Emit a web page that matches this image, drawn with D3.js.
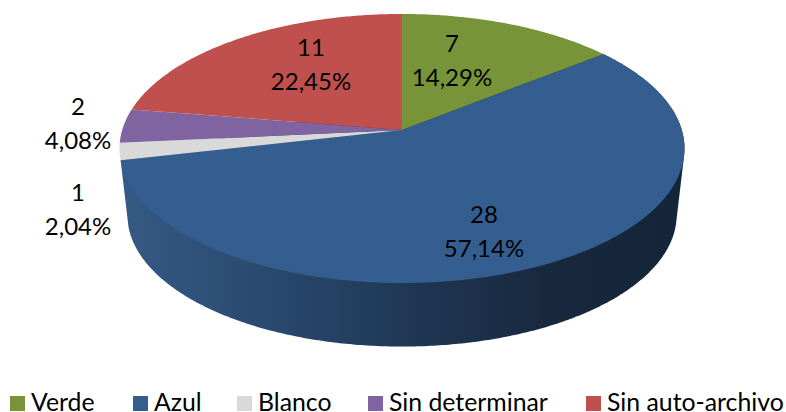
<!DOCTYPE html>
<html>
<head>
<meta charset="utf-8">
<script src="https://cdn.jsdelivr.net/npm/d3@7"></script>
<style>
  html, body { margin: 0; padding: 0; background: #fff; }
  text { font-family: Lato, "Open Sans", sans-serif; fill: #000; }
</style>
</head>
<body>
<div id="chart"></div>
<script>
const categories = ['Verde', 'Azul', 'Blanco', 'Sin determinar', 'Sin auto-archivo'];
const counts = [7, 28, 1, 2, 11];
const percents = ['14,29%', '57,14%', '2,04%', '4,08%', '22,45%'];
const colors = ['#779438', '#355e90', '#d9d9d9', '#8063a1', '#bf504d'];

const width = 786, height = 412;

// Where the labels sit, same order as categories
const labelPos = [[452, 60.5], [484, 231], [78, 209], [78, 123.5], [311, 64]];
const legendX = [10, 133, 237, 368, 586];

const svg = d3.select('#chart').append('svg')
  .attr('width', width)
  .attr('height', height)
  .style('display', 'block');

const color = d3.scaleOrdinal().domain(categories).range(colors);

const pie = d3.pie().sort(null);
const slices = pie(counts);

// Disc seen in perspective: the far side is squeezed, so the centre is not mid-ellipse
function project(angle, r, disc) {
  const u = r * Math.sin(angle), v = r * Math.cos(angle);
  const w = 1 + 0.1375 * v;
  return [disc.x + disc.a * u / w, disc.y - disc.b * v / w];
}
const topDisc = { x: 402, y: 130, a: 279.8, b: 132 };
const bottomDisc = { x: 402, y: 197, a: 272, b: 129 };

function arcPoints(start, end, disc) {
  const n = Math.ceil((end - start) / 0.01);
  return d3.range(n + 1).map(i => project(start + (end - start) * i / n, 1, disc));
}

const line = d3.line();

// Side wall, only the blue slice shows it
const defs = svg.append('defs');
const wallGrad = defs.append('linearGradient')
  .attr('id', 'wall')
  .attr('x1', 0).attr('x2', 1).attr('y1', 0).attr('y2', 0);
wallGrad.append('stop').attr('offset', '0%').attr('stop-color', '#355a85');
wallGrad.append('stop').attr('offset', '32%').attr('stop-color', '#274569');
wallGrad.append('stop').attr('offset', '50%').attr('stop-color', '#203855');
wallGrad.append('stop').attr('offset', '75%').attr('stop-color', '#18293f');
wallGrad.append('stop').attr('offset', '100%').attr('stop-color', '#14253a');

const blue = slices[1];
const wallPts = d3.polygonHull(arcPoints(blue.startAngle, blue.endAngle, topDisc)
  .concat(arcPoints(blue.startAngle, blue.endAngle, bottomDisc)));
svg.append('path')
  .attr('d', line(wallPts) + 'Z')
  .attr('fill', 'url(#wall)');

// Top face
svg.selectAll('path.slice')
  .data(slices)
  .enter()
  .append('path')
  .attr('class', 'slice')
  .attr('d', d => line([[topDisc.x, topDisc.y]].concat(arcPoints(d.startAngle, d.endAngle, topDisc))) + 'Z')
  .attr('fill', (d, i) => color(categories[i]));

// Labels
const labels = svg.selectAll('g.label')
  .data(categories)
  .enter()
  .append('g')
  .attr('class', 'label')
  .attr('transform', (d, i) => `translate(${labelPos[i][0]},${labelPos[i][1]})`);
labels.append('text')
  .attr('text-anchor', 'middle')
  .attr('y', -8.5)
  .style('font-size', '24px')
  .text((d, i) => counts[i]);
labels.append('text')
  .attr('text-anchor', 'middle')
  .attr('y', 25.5)
  .style('font-size', '24px')
  .text((d, i) => percents[i]);

// Legend
const legend = svg.selectAll('g.legend')
  .data(categories)
  .enter()
  .append('g')
  .attr('class', 'legend')
  .attr('transform', (d, i) => `translate(${legendX[i]},396)`);
legend.append('rect')
  .attr('width', 15)
  .attr('height', 15)
  .attr('fill', d => color(d));
legend.append('text')
  .attr('x', 21)
  .attr('y', 14.5)
  .style('font-size', '24.8px')
  .text(d => d);
</script>
</body>
</html>
